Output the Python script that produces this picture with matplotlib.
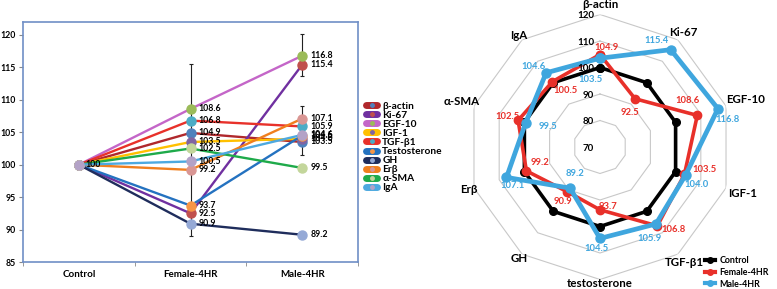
import numpy as np
import matplotlib.pyplot as plt
from matplotlib.lines import Line2D

plt.rcParams['font.family'] = ['Lato', 'DejaVu Sans']
plt.rcParams['font.weight'] = 'bold'

# ---- data ----
groups = ['Control', 'Female-4HR', 'Male-4HR']
markers_names = ['β-actin', 'Ki-67', 'EGF-10', 'IGF-1', 'TGF-β1', 'Testosterone',
                 'GH', 'Erβ', 'α-SMA', 'IgA']
control = [100.0] * 10
female = [104.9, 92.5, 108.6, 103.5, 106.8, 93.7, 90.9, 99.2, 102.5, 100.5]
male = [103.5, 115.4, 116.8, 104.0, 105.9, 104.5, 89.2, 107.1, 99.5, 104.6]

# error bars on the line chart (group index, low, high)
err_x = [1, 2, 2]
err_lo = [89.0, 113.6, 101.5]
err_hi = [115.6, 120.1, 109.0]

radar_names = ['β-actin', 'Ki-67', 'EGF-10', 'IGF-1', 'TGF-β1', 'testosterone',
               'GH', 'Erβ', 'α-SMA', 'IgA']
radar_rings = [80, 90, 100, 110, 120]
radar_ticks = [70, 80, 90, 100, 110, 120]

line_cols = ['#B0282C', '#7030A0', '#C466C8', '#FFC000', '#E8312A', '#2472C0',
             '#1F2D5C', '#F07F1E', '#1EAA4A', '#4DA9E0']
dot_cols = ['#4F81BD', '#C0504D', '#9BBB59', '#8064A2', '#4BACC6', '#F79646',
            '#95A9D6', '#D99694', '#C3D69B', '#B3A2C7']

# label offsets (pixels) for the radar data labels
f_off = [(7, 7), (-5, -14), (-10, 15), (20, 5), (16, -4), (8, 3), (-4, -10), (14, 8), (-11, 4), (13, -9)]
m_off = [(-9, -21), (-14, 9), (10, -11), (11, -10), (-6, -15), (-3, -10), (5, 15), (6, -8), (22, -4), (-13, 6)]
# radius at which each category name sits
lab_r = [123.6, 123.6, 127.6, 126.5, 124.0, 121.6, 121.8, 122.0, 125.0, 122.1]

fig = plt.figure(figsize=(7.77, 2.89), dpi=100)

# ---- left: line chart ----
ax = fig.add_axes([23/777, 27/289, 335/777, 240/289])
xs = np.arange(len(groups))
for i, name in enumerate(markers_names):
    ys = [control[i], female[i], male[i]]
    ax.plot(xs, ys, color=line_cols[i], lw=1.7, marker='o', ms=6.5,
            mfc=dot_cols[i], mec=dot_cols[i], zorder=3, solid_capstyle='round')
    for x, y in zip(xs[1:], ys[1:]):
        ax.annotate(f'{y:.1f}', (x, y), xytext=(8, 0), textcoords='offset pixels',
                    ha='left', va='center', fontsize=6.3, fontweight='bold', zorder=5)
ax.annotate('100', (0, 100), xytext=(7, 0), textcoords='offset pixels',
            ha='left', va='center', fontsize=6.3, fontweight='bold', zorder=5)

c = [(a + b) / 2 for a, b in zip(err_lo, err_hi)]
h = [(b - a) / 2 for a, b in zip(err_lo, err_hi)]
ax.errorbar(err_x, c, yerr=h, fmt='none', ecolor='#222222', elinewidth=0.8,
            capsize=1.5, capthick=0.8, zorder=2)

ax.set_xlim(-0.5, 2.5)
ax.set_ylim(85, 122)
ax.set_yticks(range(85, 121, 5))
ax.set_xticks(xs)
ax.set_xticklabels(groups, fontsize=7, fontweight='bold')
ax.set_xticks([-0.5, 0.5, 1.5, 2.5], minor=True)
ax.tick_params(axis='x', which='major', length=0, pad=6)
ax.tick_params(axis='x', which='minor', length=3, color='#888888')
ax.tick_params(axis='y', length=3, labelsize=6.3, pad=2, color='#888888')
for lab in ax.get_yticklabels():
    lab.set_fontweight('bold')
for s in ax.spines.values():
    s.set_color('#6F8FC6')
    s.set_linewidth(1.2)

handles = [Line2D([], [], color=line_cols[i], lw=5, solid_capstyle='round', marker='o',
                  ms=2.5, mfc=dot_cols[i], mec=dot_cols[i]) for i in range(10)]
fig.legend(handles, markers_names, loc='center left', bbox_to_anchor=(359/777, 1 - 147/289),
           frameon=False, fontsize=7.3, labelspacing=0.0, handlelength=1.1,
           handletextpad=0.5, borderpad=0.2)

# ---- right: radar ----
rax = fig.add_axes([(600 - 132.5)/777, (289 - 147 - 132.5)/289, 265/777, 265/289],
                   projection='polar')
rax.patch.set_alpha(0)
rax.set_theta_zero_location('N')
rax.set_theta_direction(-1)
n = len(radar_names)
ang = np.linspace(0, 2*np.pi, n, endpoint=False)
angc = np.append(ang, ang[0])
for r in radar_rings:
    rax.plot(angc, [r]*(n+1), color='#C8C8C8', lw=0.8, zorder=1)

def closed(v):
    return list(v) + [v[0]]

rax.plot(angc, closed(control), color='black', lw=2.6, marker='o', ms=5.5, zorder=3)
rax.plot(angc, closed(female), color='#E8302A', lw=2.6, marker='o', ms=6, zorder=4)
rax.plot(angc, closed(male), color='#3FA6DE', lw=3.4, marker='o', ms=6.5, zorder=5)

for i in range(n):
    rax.annotate(f'{female[i]:.1f}', (ang[i], female[i]), xytext=f_off[i],
                 textcoords='offset pixels', ha='center', va='center',
                 fontsize=6.8, color='#E8302A', fontweight='bold', zorder=6)
    rax.annotate(f'{male[i]:.1f}', (ang[i], male[i]), xytext=m_off[i],
                 textcoords='offset pixels', ha='center', va='center',
                 fontsize=6.8, color='#3FA6DE', fontweight='bold', zorder=6)
    rax.text(ang[i], lab_r[i], radar_names[i], ha='center', va='center',
             fontsize=8.3, fontweight='bold', zorder=6)
for t in radar_ticks:
    rax.annotate(str(t), (0, t), xytext=(-6, -1), textcoords='offset pixels',
                 ha='right', va='center', fontsize=7, fontweight='bold', zorder=6)

rax.set_ylim(70, 120)
rax.set_xticks([])
rax.set_yticks([])
rax.grid(False)
rax.spines['polar'].set_visible(False)

rh = [Line2D([], [], color=col, lw=3, marker='o', ms=4) for col in ['black', '#E8302A', '#3FA6DE']]
fig.legend(rh, ['Control', 'Female-4HR', 'Male-4HR'], loc='lower right',
           bbox_to_anchor=(0.998, -0.02), frameon=False, fontsize=6.4,
           labelspacing=0.3, handlelength=1.2, handletextpad=0.5, borderpad=0.2)

fig.savefig('out.png', dpi=100)
